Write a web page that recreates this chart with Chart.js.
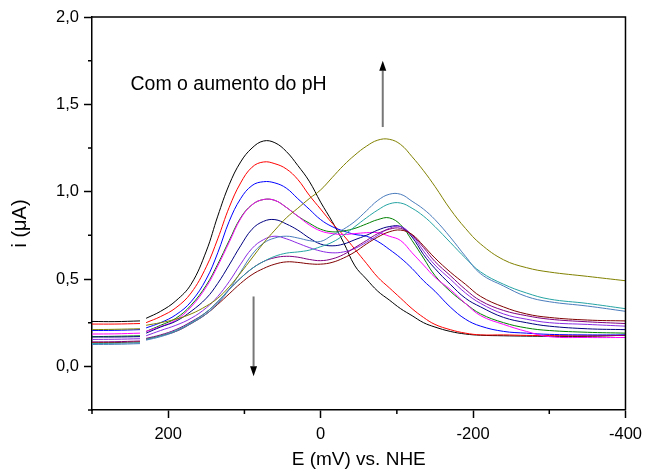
<!DOCTYPE html>
<html>
<head>
<meta charset="utf-8">
<title>Voltamogramas em função do pH</title>
<script src="https://cdn.jsdelivr.net/npm/chart.js@4/dist/chart.umd.min.js"></script>
<style>
  html, body { margin: 0; padding: 0; background: #ffffff; }
  #wrap { width: 649px; height: 471px; }
</style>
</head>
<body>
<div id="wrap"><canvas id="cv" width="649" height="471"></canvas></div>
<script>
// Potential grid (mV vs. NHE); the null column splits each trace at the break
const potentials = [300, 270, 237, 233, 229, 210, 190, 170, 150, 135, 120, 105, 90, 75, 60, 45, 30, 15, 0,
  -15, -30, -45, -60, -75, -90, -105, -120, -135, -150, -170, -190, -210, -240, -270, -300, -350, -400];

// Current (µA) for each pH, same order as potentials
const curBlack   = [0.257, 0.256, 0.26, null, 0.275, 0.315, 0.375, 0.47, 0.66, 0.86, 1.04, 1.17, 1.25, 1.29, 1.28, 1.23, 1.15, 1.06, 0.94, 0.83, 0.71, 0.575, 0.50, 0.43, 0.38, 0.33, 0.29, 0.25, 0.225, 0.20, 0.185, 0.178, 0.175, 0.173, 0.172, 0.172, 0.178];
const curRed     = [0.242, 0.242, 0.245, null, 0.25, 0.285, 0.335, 0.42, 0.57, 0.73, 0.91, 1.05, 1.14, 1.17, 1.16, 1.13, 1.07, 0.98, 0.90, 0.82, 0.75, 0.67, 0.59, 0.51, 0.45, 0.39, 0.33, 0.28, 0.24, 0.21, 0.19, 0.18, 0.18, 0.177, 0.176, 0.175, 0.177];
const curBlue    = [0.205, 0.206, 0.21, null, 0.22, 0.25, 0.295, 0.37, 0.50, 0.65, 0.83, 0.96, 1.035, 1.057, 1.05, 1.02, 0.96, 0.90, 0.84, 0.80, 0.775, 0.755, 0.745, 0.715, 0.67, 0.62, 0.56, 0.49, 0.43, 0.34, 0.27, 0.23, 0.20, 0.19, 0.183, 0.18, 0.18];
const curGreen   = [0.17, 0.172, 0.175, null, 0.20, 0.235, 0.275, 0.35, 0.465, 0.585, 0.72, 0.85, 0.925, 0.955, 0.95, 0.91, 0.86, 0.82, 0.785, 0.77, 0.775, 0.79, 0.815, 0.84, 0.85, 0.81, 0.72, 0.62, 0.52, 0.43, 0.36, 0.30, 0.25, 0.22, 0.205, 0.195, 0.19];
const curMagenta = [0.185, 0.186, 0.19, null, 0.20, 0.228, 0.265, 0.34, 0.455, 0.575, 0.71, 0.845, 0.925, 0.955, 0.95, 0.91, 0.86, 0.81, 0.775, 0.76, 0.755, 0.76, 0.765, 0.765, 0.745, 0.72, 0.65, 0.58, 0.51, 0.44, 0.36, 0.29, 0.24, 0.20, 0.17, 0.165, 0.165];
const curNavy    = [0.168, 0.168, 0.17, null, 0.19, 0.225, 0.258, 0.315, 0.39, 0.475, 0.58, 0.69, 0.785, 0.83, 0.84, 0.815, 0.78, 0.735, 0.70, 0.69, 0.70, 0.725, 0.75, 0.78, 0.80, 0.80, 0.74, 0.64, 0.56, 0.47, 0.39, 0.34, 0.28, 0.25, 0.23, 0.215, 0.21];
const curViolet  = [0.154, 0.155, 0.158, null, 0.175, 0.205, 0.235, 0.275, 0.335, 0.40, 0.485, 0.585, 0.675, 0.725, 0.745, 0.73, 0.705, 0.68, 0.66, 0.65, 0.655, 0.675, 0.71, 0.75, 0.79, 0.80, 0.75, 0.66, 0.58, 0.50, 0.42, 0.36, 0.30, 0.27, 0.25, 0.24, 0.23];
const curSteel   = [0.125, 0.126, 0.13, null, 0.15, 0.17, 0.20, 0.245, 0.30, 0.36, 0.44, 0.54, 0.64, 0.705, 0.735, 0.745, 0.735, 0.72, 0.715, 0.75, 0.785, 0.83, 0.89, 0.95, 0.985, 0.985, 0.945, 0.90, 0.84, 0.74, 0.63, 0.53, 0.46, 0.40, 0.37, 0.345, 0.315];
const curTeal    = [0.13, 0.132, 0.135, null, 0.155, 0.175, 0.205, 0.25, 0.31, 0.37, 0.44, 0.505, 0.56, 0.60, 0.63, 0.648, 0.655, 0.665, 0.685, 0.71, 0.75, 0.80, 0.85, 0.895, 0.93, 0.935, 0.905, 0.86, 0.80, 0.71, 0.62, 0.54, 0.47, 0.42, 0.385, 0.36, 0.33];
const curPurple  = [0.14, 0.141, 0.145, null, 0.16, 0.18, 0.21, 0.255, 0.31, 0.37, 0.44, 0.505, 0.56, 0.60, 0.622, 0.63, 0.625, 0.612, 0.605, 0.615, 0.64, 0.68, 0.72, 0.76, 0.785, 0.79, 0.75, 0.68, 0.60, 0.52, 0.44, 0.375, 0.32, 0.29, 0.27, 0.255, 0.245];
const curMaroon  = [0.135, 0.136, 0.14, null, 0.155, 0.175, 0.20, 0.245, 0.30, 0.355, 0.415, 0.475, 0.525, 0.56, 0.585, 0.598, 0.595, 0.587, 0.585, 0.595, 0.62, 0.655, 0.70, 0.74, 0.77, 0.78, 0.755, 0.69, 0.62, 0.54, 0.47, 0.40, 0.34, 0.30, 0.28, 0.265, 0.26];
const curOlive   = [0.21, 0.212, 0.215, null, 0.235, 0.25, 0.27, 0.30, 0.345, 0.39, 0.455, 0.535, 0.62, 0.705, 0.78, 0.85, 0.905, 0.96, 1.01, 1.08, 1.15, 1.21, 1.26, 1.295, 1.30, 1.27, 1.20, 1.12, 1.03, 0.90, 0.79, 0.70, 0.61, 0.565, 0.54, 0.515, 0.49];

// Tick values
const xMajorTicks = [200, 0, -200, -400];
const xMinorTicks = [300, 100, -100, -300];
const yMajorTicks = [0, 0.5, 1.0, 1.5, 2.0];
const yMinorTicks = [-0.25, 0.25, 0.75, 1.25, 1.75];

const annotationText = 'Com o aumento do pH';
const yTitle = 'i (\u03BCA)';

const traces = [
  { data: curOlive,   color: '#808000' },
  { data: curSteel,   color: '#4a7cbc' },
  { data: curTeal,    color: '#26a3a3' },
  { data: curMaroon,  color: '#800000' },
  { data: curPurple,  color: '#800080' },
  { data: curViolet,  color: '#8a2be2' },
  { data: curNavy,    color: '#000080' },
  { data: curMagenta, color: '#ff00ff' },
  { data: curGreen,   color: '#008000' },
  { data: curBlue,    color: '#0000ff' },
  { data: curRed,     color: '#ff0000' },
  { data: curBlack,   color: '#000000' }
];

const FONT = "'Liberation Sans', Arial, Helvetica, sans-serif";
Chart.defaults.font.family = FONT;
Chart.defaults.color = '#000000';

const isOn = (v, list) => list.some(t => Math.abs(t - v) < 1e-6);

// Frame, minor ticks, arrows, y title and the note inside the plot
const frameAndNotes = {
  id: 'frameAndNotes',
  afterDraw(chart) {
    const { ctx, chartArea: a, scales: { x, y } } = chart;
    ctx.save();
    ctx.strokeStyle = '#000';
    ctx.lineWidth = 1.5;
    ctx.beginPath();
    ctx.moveTo(a.left, a.top); ctx.lineTo(a.right, a.top); ctx.lineTo(a.right, a.bottom);
    ctx.stroke();

    ctx.beginPath();
    xMinorTicks.forEach(v => { const px = x.getPixelForValue(v); ctx.moveTo(px, a.bottom); ctx.lineTo(px, a.bottom + 4); });
    yMinorTicks.forEach(v => { const py = y.getPixelForValue(v); ctx.moveTo(a.left, py); ctx.lineTo(a.left - 4, py); });
    ctx.stroke();

    const arrow = (xv, fromV, toV) => {
      const px = x.getPixelForValue(xv);
      const p0 = y.getPixelForValue(fromV);
      const p1 = y.getPixelForValue(toV);
      const dir = Math.sign(p1 - p0);
      const headLen = 10, headHalf = 3.5;
      ctx.strokeStyle = '#777777';
      ctx.lineWidth = 2;
      ctx.beginPath();
      ctx.moveTo(px, p0); ctx.lineTo(px, p1 - dir * headLen);
      ctx.stroke();
      ctx.fillStyle = '#000000';
      ctx.beginPath();
      ctx.moveTo(px, p1);
      ctx.lineTo(px - headHalf, p1 - dir * headLen);
      ctx.lineTo(px + headHalf, p1 - dir * headLen);
      ctx.closePath();
      ctx.fill();
    };
    arrow(-81.5, 1.37, 1.75);
    arrow(88, 0.40, -0.057);

    ctx.fillStyle = '#000';
    ctx.font = '19.5px ' + FONT;
    ctx.textAlign = 'left';
    ctx.textBaseline = 'alphabetic';
    ctx.fillText(annotationText, x.getPixelForValue(249.5), y.getPixelForValue(1.58));

    // vertical axis title, sitting a little below the middle of the axis
    ctx.save();
    ctx.translate(20, (a.top + a.bottom) / 2 + 10);
    ctx.rotate(-Math.PI / 2);
    ctx.font = '20px ' + FONT;
    ctx.textAlign = 'center';
    ctx.textBaseline = 'middle';
    ctx.fillText(yTitle, 0, 0);
    ctx.restore();

    ctx.restore();
  }
};

new Chart(document.getElementById('cv'), {
  type: 'line',
  data: {
    datasets: traces.map(t => ({
      data: potentials.map((e, i) => ({ x: e, y: t.data[i] })),
      borderColor: t.color,
      borderWidth: 1,
      pointRadius: 0,
      fill: false,
      spanGaps: false,
      tension: 0.4
    }))
  },
  options: {
    responsive: false,
    animation: false,
    devicePixelRatio: 1,
    layout: { padding: { left: 0, right: 16, top: 17, bottom: 0 } },
    plugins: { legend: { display: false }, tooltip: { enabled: false } },
    scales: {
      x: {
        type: 'linear',
        reverse: true,
        min: -400,
        max: 300,
        afterFit: s => { s.height = 61; },
        ticks: {
          stepSize: 100,
          padding: 7,
          maxRotation: 0,
          autoSkip: false,
          font: { size: 16.5 },
          callback: v => isOn(v, xMajorTicks) ? String(v) : ''
        },
        grid: {
          drawOnChartArea: false,
          drawTicks: true,
          tickLength: 8,
          tickWidth: 1.5,
          tickColor: c => (c.tick && isOn(c.tick.value, xMajorTicks)) ? '#000' : 'rgba(0,0,0,0)'
        },
        border: { display: true, color: '#000', width: 1.5 },
        title: { display: true, text: 'E (mV) vs. NHE', font: { size: 19 }, padding: { top: 0, bottom: 0 } }
      },
      y: {
        type: 'linear',
        min: -0.25,
        max: 2.0,
        afterFit: s => { s.width = 92; },
        ticks: {
          stepSize: 0.25,
          padding: 5,
          autoSkip: false,
          font: { size: 16.5 },
          callback: v => isOn(v, yMajorTicks) ? v.toFixed(1).replace('.', ',') : ''
        },
        grid: {
          drawOnChartArea: false,
          drawTicks: true,
          tickLength: 8,
          tickWidth: 1.5,
          tickColor: c => (c.tick && isOn(c.tick.value, yMajorTicks)) ? '#000' : 'rgba(0,0,0,0)'
        },
        border: { display: true, color: '#000', width: 1.5 },
        title: { display: false }
      }
    }
  },
  plugins: [frameAndNotes]
});
</script>
</body>
</html>
